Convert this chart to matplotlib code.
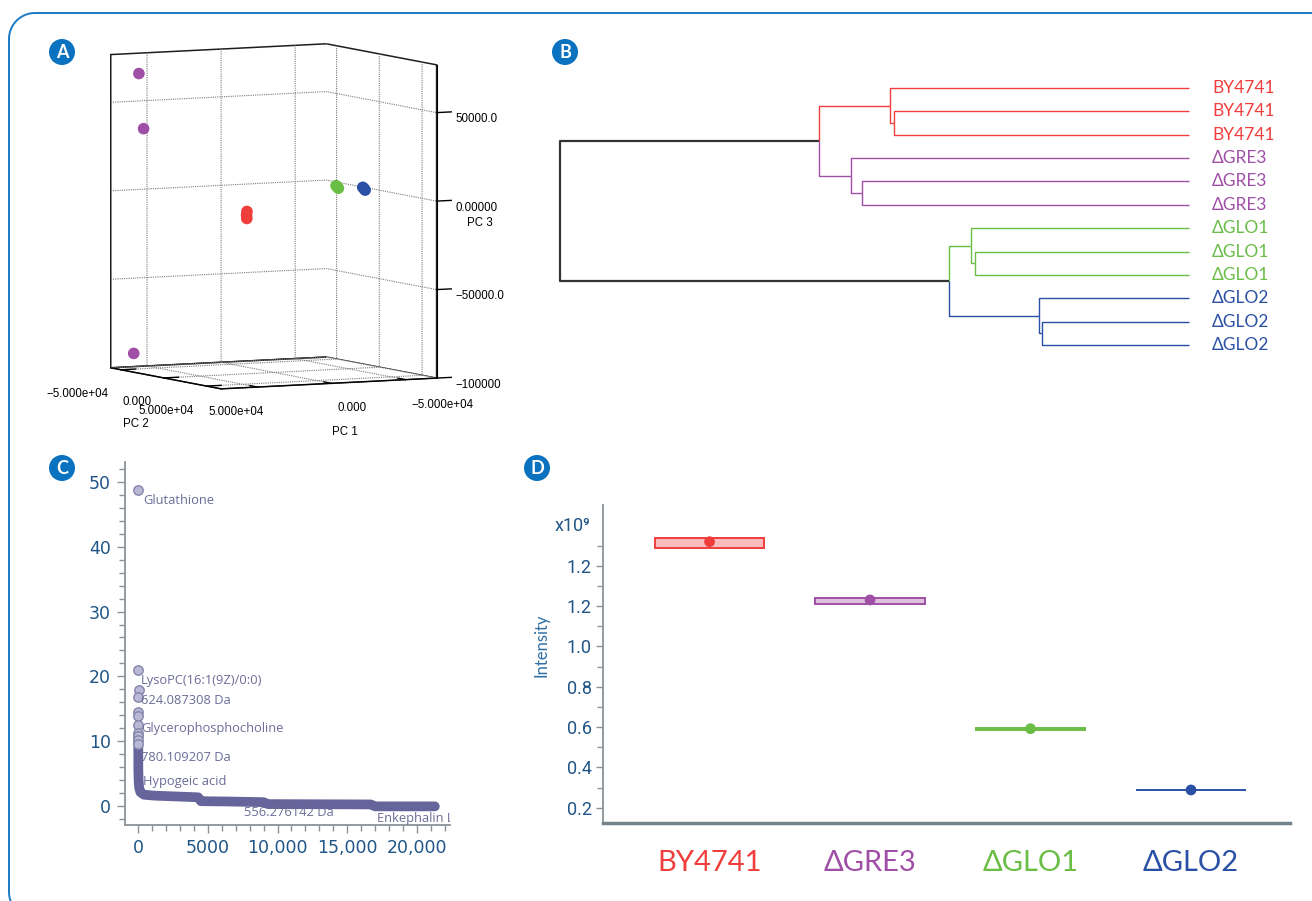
import numpy as np
import matplotlib
matplotlib.use('Agg')
import matplotlib.pyplot as plt
from matplotlib.patches import Circle, Rectangle
from matplotlib.lines import Line2D
from matplotlib.ticker import FixedLocator

plt.rcParams['font.family'] = ['Lato', 'DejaVu Sans']
plt.rcParams['savefig.bbox'] = 'standard'

# ---------------- data ----------------
# Panel A: PCA scores (PC1, PC2, PC3)
pca_group = ['ΔGRE3'] * 3 + ['BY4741'] * 3 + ['ΔGLO1'] * 3 + ['ΔGLO2'] * 3
pca_pc1 = [63000, 61300, 66500, 19800, 20300, 19600, -33700, -34200, -33200, -44300, -44800, -43800]
pca_pc2 = [-49000, -46500, -49000, 2500, 3000, 2000, 15400, 15900, 14900, 28300, 28800, 27800]
pca_pc3 = [67000, 36000, -91000, -8000, -10000, -12000, 4900, 4100, 5500, 4700, 3800, 5300]
pc_ticks12 = [-50000, 0, 50000]
pc_ticklabels12 = ['−5.000e+04', '0.000', '5.000e+04']
pc3_ticks = [-100000, -50000, 0, 50000]
pc3_ticklabels = ['−100000', '−50000.0', '0.00000', '50000.0']

# Panel B: hierarchical clustering (leaves 0-11, merged nodes numbered from 12)
leaf_labels = ['BY4741'] * 3 + ['ΔGRE3'] * 3 + ['ΔGLO1'] * 3 + ['ΔGLO2'] * 3
merge_a = [1, 0, 4, 3, 13, 7, 6, 10, 9, 18, 16]
merge_b = [2, 12, 5, 14, 15, 8, 17, 11, 19, 20, 21]
merge_height = [0.469, 0.476, 0.520, 0.537, 0.589, 0.340, 0.346, 0.233, 0.239, 0.381, 1.000]

# Panel C: ranked features
c_out_x = [0, -30, 20, -10, 0, -20, 10, -10, 10, 0, -20]
c_out_y = [48.8, 21.0, 17.9, 16.8, 14.5, 13.8, 12.5, 11.2, 10.7, 10.2, 9.6]
c_band_x = [0, 0, 20, 60, 150, 400, 1200, 2500, 4300, 4500, 6500, 9000, 9300, 16700, 17000, 21300]
c_band_y = [10.8, 6.0, 4.0, 2.8, 2.1, 1.7, 1.55, 1.45, 1.3, 0.7, 0.65, 0.55, 0.25, 0.2, -0.1, -0.1]
c_labels = ['Glutathione', 'LysoPC(16:1(9Z)/0:0)', '624.087308 Da', 'Glycerophosphocholine',
            '780.109207 Da', 'Hypogeic acid', '556.276142 Da', 'Enkephalin L']
c_label_x = [340, 200, 200, 200, 200, 340, 7590, 17150]
c_label_y = [47.1, 19.3, 16.2, 11.9, 7.5, 3.8, -1.1, -1.9]

# Panel D: intensity of the selected feature (x10^9)
d_groups = ['BY4741', 'ΔGRE3', 'ΔGLO1', 'ΔGLO2']
d_low = [1.487, 1.210, 0.588, 0.2865]
d_high = [1.537, 1.239, 0.596, 0.2895]
d_mean = [1.520, 1.231, 0.592, 0.288]
d_yticks = [0.2, 0.4, 0.6, 0.8, 1.0, 1.2, 1.4]
d_yticklabels = ['0.2', '0.4', '0.6', '0.8', '1.0', '1.2', '1.2']

group_colors = {'BY4741': '#ef3e3c', 'ΔGRE3': '#9f4fa6', 'ΔGLO1': '#6abd45', 'ΔGLO2': '#2a50a6'}
tick_blue = '#1f5587'

# ---------------- figure ----------------
W, H = 1312, 901
fig = plt.figure(figsize=(W / 100, H / 100), dpi=100)
fig.patch.set_facecolor('white')

def px_rect(l, t, r, b):
    return [l / W, 1 - b / H, (r - l) / W, (b - t) / H]

# rounded outer frame (figure pixel coordinates, y measured from top); runs off the right/bottom edge
fl, ft, fr, fb, rad = 9, 13, 1337, 918, 26
th = np.linspace(0, np.pi / 2, 30)
fx = np.concatenate([fl + rad - rad * np.cos(th), fr - rad + rad * np.sin(th),
                     fr - rad + rad * np.cos(th), fl + rad - rad * np.sin(th), [fl]])
fy = np.concatenate([ft + rad - rad * np.sin(th), ft + rad - rad * np.cos(th),
                     fb - rad + rad * np.sin(th), fb - rad + rad * np.cos(th), [ft + rad]])
frame = Line2D(fx / W, 1 - fy / H, transform=fig.transFigure, color='#1a7ac4', lw=1.4)
frame.set_clip_box(fig.bbox)
frame.set_clip_on(True)
fig.add_artist(frame)

bg = fig.add_axes([0, 0, 1, 1], zorder=-10)
bg.set_xlim(0, W)
bg.set_ylim(H, 0)
bg.axis('off')
for lab, (cx, cy) in zip('ABCD', [(62, 52), (565, 52), (62, 468), (537, 468)]):
    bg.add_patch(Circle((cx, cy), 13, fc='#0a72bf', ec='none'))
    bg.text(cx, cy + 0.5, lab, color='white', fontsize=13, fontweight='bold',
            ha='center', va='center', family=['Lato', 'DejaVu Sans'])

# ---------------- Panel A ----------------
axA = fig.add_axes(px_rect(53, 12, 483, 432), projection='3d', proj_type='ortho')
axA.set_facecolor('none')
axA.view_init(elev=5.6, azim=62.9)
axA.set_box_aspect((1, 1, 1.30), zoom=1.075)
cols = [group_colors[g] for g in pca_group]
axA.scatter(pca_pc1, pca_pc2, pca_pc3, c=cols, s=70, depthshade=False, edgecolors='none', alpha=1)
axA.set_xlim(-71000, 74500)
axA.set_ylim(-62000, 67000)
axA.set_zlim(-100000, 77000)
axA.set_xticks(pc_ticks12)
axA.set_xticklabels(pc_ticklabels12)
axA.set_yticks(pc_ticks12)
axA.set_yticklabels(pc_ticklabels12)
axA.set_zticks(pc3_ticks)
axA.set_zticklabels(pc3_ticklabels)
for axis in (axA.xaxis, axA.yaxis, axA.zaxis):
    axis.set_pane_color((1, 1, 1, 1))
    axis.pane.set_edgecolor('#1e1e1e')
    axis.pane.set_linewidth(1.1)
    axis._axinfo['grid'].update(color='#7a7a7a', linestyle=(0, (1, 1)), linewidth=0.8)
    axis._axinfo['tick']['inward_factor'] = 0.0
    axis._axinfo['tick']['outward_factor'] = 0.85
    axis._axinfo['tick']['linewidth'] = {True: 1.0, False: 0.8}
    axis._axinfo['axisline']['color'] = '#1e1e1e'
    axis._axinfo['axisline']['linewidth'] = 1.1
axA.zaxis._axinfo['juggled'] = (1, 2, 0)
axA.tick_params(labelsize=8.3, pad=1)
for t in axA.get_xticklabels() + axA.get_yticklabels() + axA.get_zticklabels():
    t.set_family(['Liberation Sans', 'DejaVu Sans'])
for t, ha in zip(axA.get_xticklabels(), ['left', 'left', 'right']):
    t.set_ha(ha)
for t in axA.get_yticklabels():
    t.set_ha('right')
for t in axA.get_zticklabels():
    t.set_ha('left')
axA.set_xlabel('PC 1', fontsize=8.3, family=['Liberation Sans'], labelpad=2)
axA.set_ylabel('PC 2', fontsize=8.3, family=['Liberation Sans'], labelpad=1)
axA.zaxis.set_rotate_label(False)
axA.set_zlabel('PC 3', fontsize=8.3, family=['Liberation Sans'], rotation=0, labelpad=0)

# ---------------- Panel B ----------------
axB = fig.add_axes(px_rect(560, 78, 1189, 355))
axB.set_facecolor('none')
n_leaves = len(leaf_labels)
node_y = {i: float(i) for i in range(n_leaves)}
node_h = {i: 0.0 for i in range(n_leaves)}
node_col = {i: group_colors[leaf_labels[i]] for i in range(n_leaves)}
parent = {}
for k, (a, b, h) in enumerate(zip(merge_a, merge_b, merge_height)):
    nid = n_leaves + k
    node_y[nid] = (node_y[a] + node_y[b]) / 2
    node_h[nid] = h
    node_col[nid] = node_col[a] if node_col[a] == node_col[b] else '#333333'
    parent[a] = nid
    parent[b] = nid
for nid, pid in parent.items():
    c = node_col[nid]
    lw = 1.6 if c == '#333333' else 1.0
    axB.plot([node_h[nid], node_h[pid], node_h[pid]], [node_y[nid], node_y[nid], node_y[pid]],
             color=c, lw=lw, solid_capstyle='butt', clip_on=False)
for i, lab in enumerate(leaf_labels):
    axB.annotate(lab, (0, i), xytext=(23, 0), textcoords='offset pixels', va='center', ha='left',
                 color=group_colors[lab], fontsize=12.5, family=['Lato', 'DejaVu Sans'],
                 annotation_clip=False)
axB.set_xlim(1.0, 0.0)
axB.set_ylim(n_leaves - 1 + 0.43, -0.43)
axB.axis('off')

# ---------------- Panel C ----------------
axC = fig.add_axes(px_rect(125, 461.7, 450, 825))
axC.set_facecolor('none')
axC.plot(c_band_x, c_band_y, color='#65659b', lw=7, solid_capstyle='round',
         solid_joinstyle='round', zorder=3)
axC.scatter(c_out_x, c_out_y, s=46, facecolor='#b9b9d6', edgecolor='#8585ad', lw=1.0, zorder=4)
for t, x, y in zip(c_labels, c_label_x, c_label_y):
    axC.text(x, y, t, color='#6c6c99', fontsize=9.3, family=['Open Sans', 'DejaVu Sans'],
             ha='left', va='center', clip_on=True, zorder=5)
axC.set_xlim(-955, 22390)
axC.set_ylim(-2.98, 53.17)
axC.set_xticks([0, 5000, 10000, 15000, 20000])
axC.set_xticklabels(['0', '5000', '10,000', '15,000', '20,000'])
axC.set_yticks([0, 10, 20, 30, 40, 50])
axC.xaxis.set_minor_locator(FixedLocator(list(range(1000, 22001, 1000))))
axC.yaxis.set_minor_locator(FixedLocator(list(range(-2, 53, 2))))
for s in ('top', 'right'):
    axC.spines[s].set_visible(False)
for s in ('left', 'bottom'):
    axC.spines[s].set_color('#8a939a')
    axC.spines[s].set_linewidth(1.3)
axC.tick_params(which='both', color='#8a939a', width=1.0, direction='out')
axC.tick_params(which='major', length=6, labelsize=12.5, labelcolor=tick_blue, pad=4)
axC.tick_params(which='minor', length=4)
for t in axC.get_xticklabels() + axC.get_yticklabels():
    t.set_family(['DejaVu Sans'])

# ---------------- Panel D ----------------
axD = fig.add_axes(px_rect(603, 505, 1290, 823.3))
axD.set_facecolor('none')
bw = 0.68
for i, g in enumerate(d_groups):
    c = group_colors[g]
    axD.add_patch(Rectangle((i - bw / 2, d_low[i]), bw, d_high[i] - d_low[i],
                            facecolor=c, alpha=0.35, edgecolor='none', zorder=2))
    axD.add_patch(Rectangle((i - bw / 2, d_low[i]), bw, d_high[i] - d_low[i],
                            facecolor='none', edgecolor=c, lw=1.4, zorder=3))
    axD.scatter([i], [d_mean[i]], s=60, color=c, zorder=4, edgecolors='none')
axD.set_xlim(-0.664, 3.617)
axD.set_ylim(0.1226, 1.702)
axD.set_yticks(d_yticks)
axD.set_yticklabels(d_yticklabels)
axD.yaxis.set_minor_locator(FixedLocator([0.3, 0.5, 0.7, 0.9, 1.1, 1.3, 1.5]))
axD.set_xticks(range(len(d_groups)))
axD.set_xticklabels(d_groups)
for t, g in zip(axD.get_xticklabels(), d_groups):
    t.set_color(group_colors[g])
    t.set_family(['Lato', 'DejaVu Sans'])
for t in axD.get_yticklabels():
    t.set_family(['Roboto', 'DejaVu Sans'])
axD.tick_params(axis='x', length=0, labelsize=21, pad=19)
axD.tick_params(axis='y', which='both', color='#8a939a', direction='out', width=1.0)
axD.tick_params(axis='y', which='major', length=5, labelsize=13, labelcolor=tick_blue, pad=3)
axD.tick_params(axis='y', which='minor', length=4)
for s in ('top', 'right'):
    axD.spines[s].set_visible(False)
axD.spines['left'].set_color('#8a939a')
axD.spines['left'].set_linewidth(1.3)
axD.spines['bottom'].set_color('#75838d')
axD.spines['bottom'].set_linewidth(2.5)
axD.set_ylabel('Intensity', fontsize=12, color='#2f6ea5', family=['Lato', 'DejaVu Sans'])
axD.yaxis.set_label_coords(-0.0786, 0.56)
axD.text(-0.018, 1.60, 'x10⁹', transform=axD.get_yaxis_transform(), ha='right', va='center',
         fontsize=13, color=tick_blue, family=['Roboto', 'DejaVu Sans'])

fig.savefig('out.png', dpi=100, facecolor='white', bbox_inches=None)
